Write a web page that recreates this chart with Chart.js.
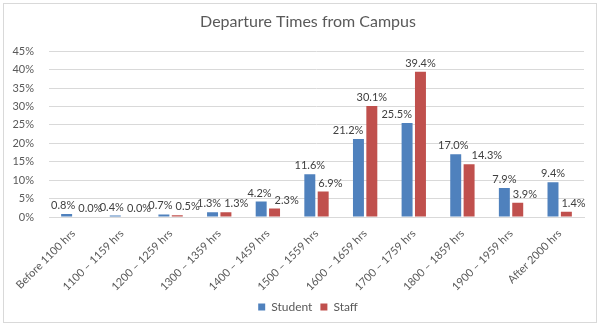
<!DOCTYPE html>
<html>
<head>
<meta charset="utf-8">
<script src="https://cdn.jsdelivr.net/npm/chart.js@4"></script>
<style>
	body { margin: 0; background: #fff; }
	#wrap { position: relative; width: 604px; height: 328px; }
	#frame { position: absolute; left: 3px; top: 3px; width: 592px; height: 318px; border: 1px solid #d9d9d9; pointer-events: none; }
	canvas { position: absolute; left: 0; top: 0; }
</style>
</head>
<body>
<div id="wrap">
	<canvas id="departChart" width="604" height="328"></canvas>
	<div id="frame"></div>
</div>
<script>
var categories = [
	"Before 1100 hrs",
	"1100 – 1159 hrs",
	"1200 – 1259 hrs",
	"1300 – 1359 hrs",
	"1400 – 1459 hrs",
	"1500 – 1559 hrs",
	"1600 – 1659 hrs",
	"1700 – 1759 hrs",
	"1800 – 1859 hrs",
	"1900 – 1959 hrs",
	"After 2000 hrs"
];
var studentValues = [0.8, 0.4, 0.7, 1.3, 4.2, 11.6, 21.2, 25.5, 17.0, 7.9, 9.4];
var staffValues = [0.0, 0.0, 0.5, 1.3, 2.3, 6.9, 30.1, 39.4, 14.3, 3.9, 1.4];
var yTicks = [0, 5, 10, 15, 20, 25, 30, 35, 40, 45];

var FONT = "Lato, 'Open Sans', sans-serif";

// value text above each bar, pushed sideways when it would hit the
// neighbour bar or the neighbour's label (like excel does)
var valueLabels = {
	id: 'valueLabels',
	afterDatasetsDraw: function(chart) {
		var ctx = chart.ctx;
		var h = 12, gap = 3;
		ctx.save();
		ctx.font = "11px " + FONT;
		ctx.fillStyle = "#404040";
		ctx.textAlign = "center";
		ctx.textBaseline = "bottom";
		var m0 = chart.getDatasetMeta(0), m1 = chart.getDatasetMeta(1);
		var d0 = chart.data.datasets[0].data, d1 = chart.data.datasets[1].data;
		for (var j = 0; j < d0.length; j++) {
			var a = m0.data[j], b = m1.data[j];
			var ta = d0[j].toFixed(1) + "%", tb = d1[j].toFixed(1) + "%";
			var wa = ctx.measureText(ta).width, wb = ctx.measureText(tb).width;
			var xa = a.x, xb = b.x;
			var ya = a.y - 3, yb = b.y - 3;
			// left label runs into the taller right bar
			if (b.y < ya && xa + wa / 2 > b.x - b.width / 2) {
				xa = b.x - b.width / 2 - gap - wa / 2;
			}
			// right label runs into the taller left bar
			if (a.y < yb && xb - wb / 2 < a.x + a.width / 2) {
				xb = a.x + a.width / 2 + gap + wb / 2;
			}
			// labels on top of each other -> mostly move the right one
			if (Math.abs(ya - yb) < h) {
				var over = (xa + wa / 2) - (xb - wb / 2) + gap;
				if (over > 0) {
					xa -= over * 0.25;
					xb += over * 0.75;
				}
			}
			ctx.fillText(ta, xa, ya);
			ctx.fillText(tb, xb, yb);
		}
		ctx.restore();
	}
};

var ctx = document.getElementById("departChart").getContext("2d");
var departChart = new Chart(ctx, {
	type: 'bar',
	data: {
		labels: categories,
		datasets: [
			{ label: "Student", data: studentValues, backgroundColor: "#4f81bd" },
			{ label: "Staff", data: staffValues, backgroundColor: "#c0504d" }
		]
	},
	options: {
		responsive: false,
		animation: false,
		categoryPercentage: 0.55,
		barPercentage: 0.82,
		layout: { padding: { left: 12, right: 0, top: 12, bottom: 5 } },
		plugins: {
			title: {
				display: true,
				text: "Departure Times from Campus",
				color: "#595959",
				font: { family: FONT, size: 16, weight: 'normal' },
				padding: { top: 0, bottom: 20 }
			},
			legend: {
				position: 'bottom',
				labels: {
					boxWidth: 7,
					boxHeight: 7,
					padding: 8,
					color: "#595959",
					font: { family: FONT, size: 12 }
				}
			},
			tooltip: { enabled: false }
		},
		scales: {
			x: {
				grid: { display: false },
				border: { color: "#d9d9d9" },
				ticks: {
					color: "#595959",
					font: { family: FONT, size: 11 },
					minRotation: 45,
					maxRotation: 45,
					padding: 2
				},
				afterFit: function(scale) { scale.height = 76; }
			},
			y: {
				min: 0,
				max: 45,
				afterBuildTicks: function(scale) {
					scale.ticks = yTicks.map(function(v) { return { value: v }; });
				},
				grid: { color: "#d9d9d9", drawTicks: false },
				border: { display: false },
				ticks: {
					color: "#595959",
					font: { family: FONT, size: 11 },
					padding: 15,
					callback: function(v) { return v + "%"; }
				},
				afterFit: function(scale) { scale.width = 37; }
			},
			// empty axis only to keep the right margin, so the legend stays centred
			yRight: {
				position: 'right',
				grid: { display: false },
				border: { display: false },
				ticks: { display: false },
				afterFit: function(scale) { scale.width = 20; }
			}
		}
	},
	plugins: [valueLabels]
});
</script>
</body>
</html>
